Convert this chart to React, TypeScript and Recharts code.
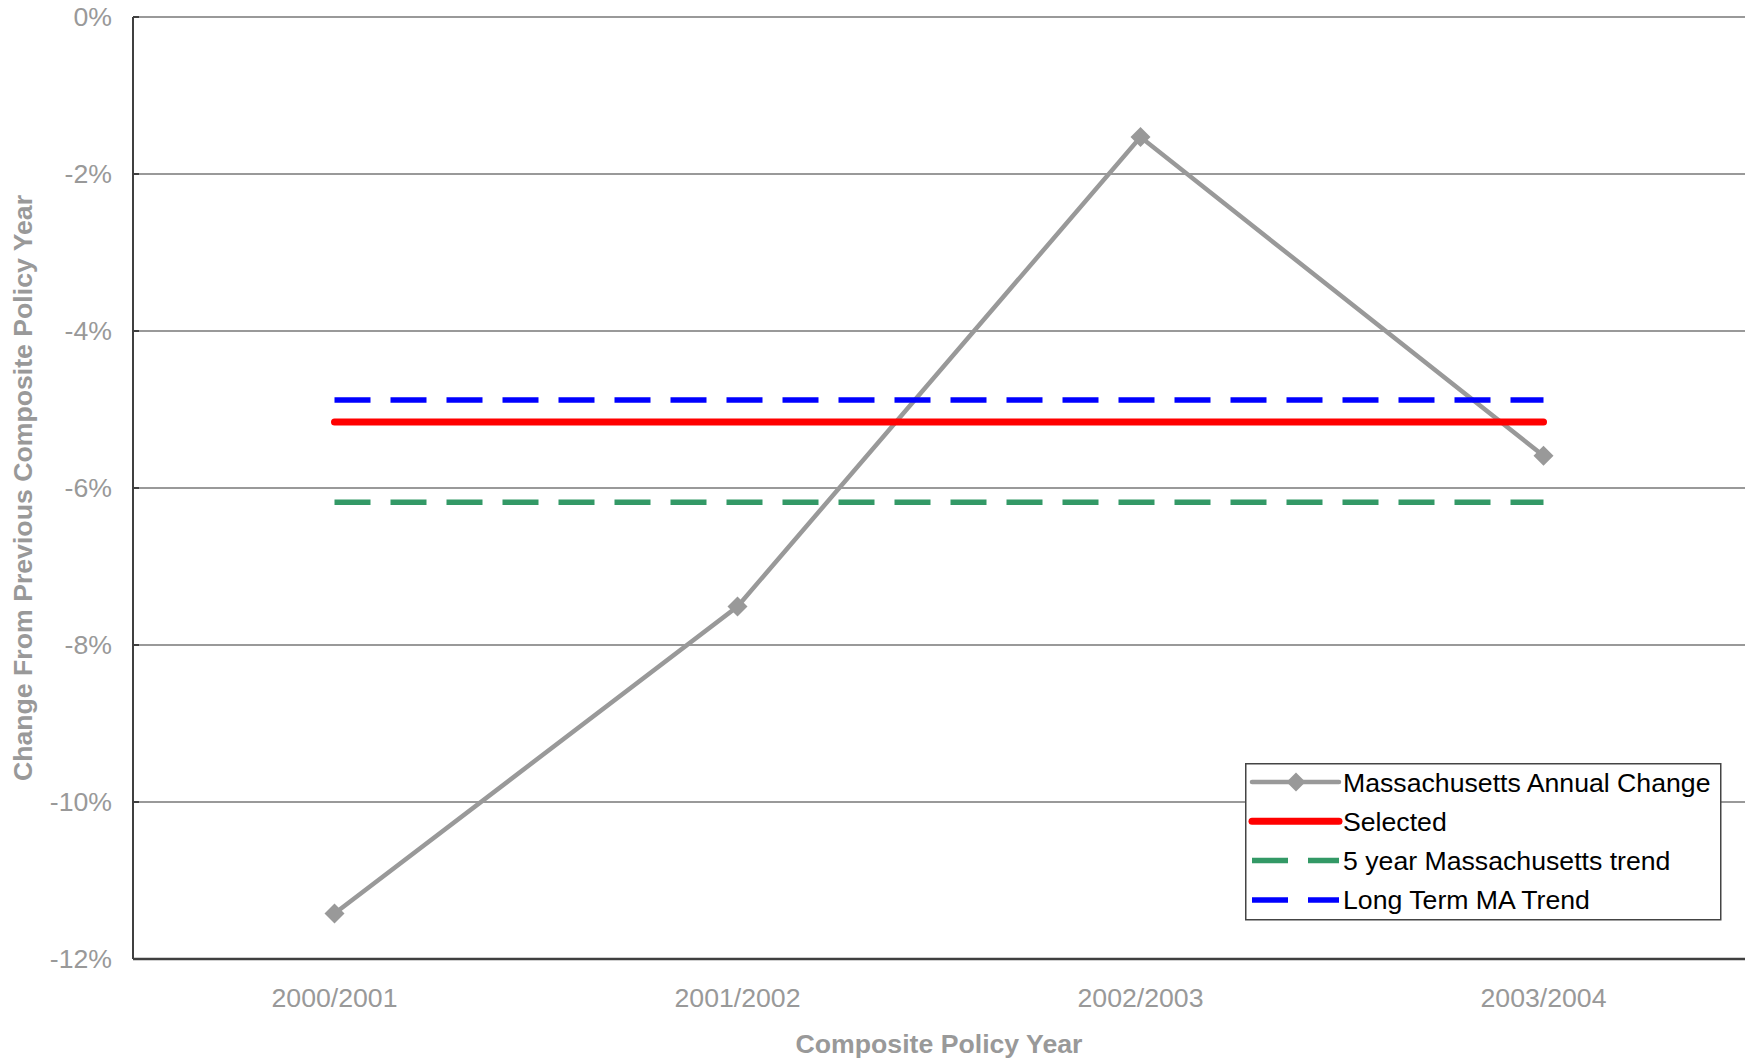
import { CartesianGrid, ComposedChart, Legend, Line, XAxis, YAxis } from "recharts";

// Policy years on the x axis, values in percent change.
const YEARS = ["2000/2001", "2001/2002", "2002/2003", "2003/2004"];
const ANNUAL = [-11.42, -7.51, -1.53, -5.59];
const SELECTED = [-5.16, -5.16, -5.16, -5.16];
const FIVE_YEAR = [-6.18, -6.18, -6.18, -6.18];
const LONG_TERM = [-4.88, -4.88, -4.88, -4.88];
const Y_TICKS = [0, -2, -4, -6, -8, -10, -12];

const FONT = '"Liberation Sans", Arial, Helvetica, sans-serif';
const FS = 26.67; // 20pt
const GREY = "#999999";
const AXIS = "#404040";

const data = YEARS.map((year, i) => ({
  year,
  annual: ANNUAL[i],
  selected: SELECTED[i],
  fiveYear: FIVE_YEAR[i],
  longTerm: LONG_TERM[i],
}));

const SERIES = [
  { key: "annual", name: "Massachusetts Annual Change", color: GREY, width: 4.5, dash: undefined, marker: true },
  { key: "selected", name: "Selected", color: "#ff0000", width: 7, dash: undefined, marker: false },
  { key: "fiveYear", name: "5 year Massachusetts trend", color: "#339966", width: 5.5, dash: "36 20", marker: false },
  { key: "longTerm", name: "Long Term MA Trend", color: "#0000ff", width: 5.5, dash: "36 20", marker: false },
];

function Diamond({ cx, cy, r = 10, fill = GREY }: { cx?: number; cy?: number; r?: number; fill?: string }) {
  if (cx == null || cy == null) return null;
  return (
    <polygon
      points={`${cx},${cy - r} ${cx + r},${cy} ${cx},${cy + r} ${cx - r},${cy}`}
      fill={fill}
    />
  );
}

// Boxed legend, drawn by hand to match the original's swatches.
function LegendBox() {
  const rowY = (i: number) => 19 + i * 39.3;
  return (
    <svg width={477} height={158} style={{ display: "block" }}>
      <rect x={0.75} y={0.75} width={475} height={156} fill="#fff" stroke="#444" strokeWidth={1.5} />
      {SERIES.map((s, i) => (
        <g key={s.key}>
          <line
            x1={7}
            x2={94}
            y1={rowY(i)}
            y2={rowY(i)}
            stroke={s.color}
            strokeWidth={s.width}
            strokeDasharray={s.dash}
            strokeLinecap={s.dash ? "butt" : "round"}
          />
          {s.marker && <Diamond cx={51} cy={rowY(i)} r={9.5} />}
          <text x={98} y={rowY(i) + 9.5} fontSize={FS} fontFamily={FONT} fill="#000">
            {s.name}
          </text>
        </g>
      ))}
    </svg>
  );
}

export default function App() {
  return (
    <div style={{ position: "absolute", left: 0, top: 0, width: 1745, height: 1062, background: "#fff" }}>
      <ComposedChart
        width={1745}
        height={1062}
        data={data}
        margin={{ top: 17, right: 0, bottom: 0, left: 0 }}
      >
        <CartesianGrid horizontal vertical={false} stroke={GREY} strokeWidth={2} />
        <XAxis
          dataKey="year"
          height={103}
          padding={{ left: 201.5, right: 201.5 }}
          tickLine={false}
          tickSize={6}
          tickMargin={23}
          axisLine={{ stroke: AXIS, strokeWidth: 2.5 }}
          tick={{ fill: GREY, fontSize: FS, fontFamily: FONT }}
          label={{
            content: () => (
              <text x={939} y={1053} textAnchor="middle" fontSize={FS} fontWeight="bold" fontFamily={FONT} fill={GREY}>
                Composite Policy Year
              </text>
            ),
          }}
        />
        <YAxis
          width={133}
          domain={[-12, 0]}
          ticks={Y_TICKS}
          interval={0}
          tickSize={-6}
          tickMargin={27}
          tickLine={{ stroke: AXIS, strokeWidth: 2 }}
          axisLine={{ stroke: AXIS, strokeWidth: 2 }}
          tickFormatter={(v: number) => `${v}%`}
          tick={{ fill: GREY, fontSize: FS, fontFamily: FONT }}
          label={{
            content: () => (
              <text
                transform="translate(32, 488) rotate(-90)"
                textAnchor="middle"
                fontSize={FS}
                fontWeight="bold"
                fontFamily={FONT}
                fill={GREY}
              >
                Change From Previous Composite Policy Year
              </text>
            ),
          }}
        />
        {SERIES.map((s) => (
          <Line
            key={s.key}
            dataKey={s.key}
            name={s.name}
            type="linear"
            stroke={s.color}
            strokeWidth={s.width}
            strokeDasharray={s.dash}
            strokeLinecap={s.dash ? "butt" : "round"}
            dot={s.marker ? (p: any) => <Diamond key={p.index} cx={p.cx} cy={p.cy} /> : false}
            activeDot={false}
            isAnimationActive={false}
          />
        ))}
        <Legend
          layout="vertical"
          align="center"
          verticalAlign="middle"
          content={() => <LegendBox />}
          wrapperStyle={{ left: 1245, top: 763, width: 477, height: 158, margin: 0 }}
        />
      </ComposedChart>
    </div>
  );
}
